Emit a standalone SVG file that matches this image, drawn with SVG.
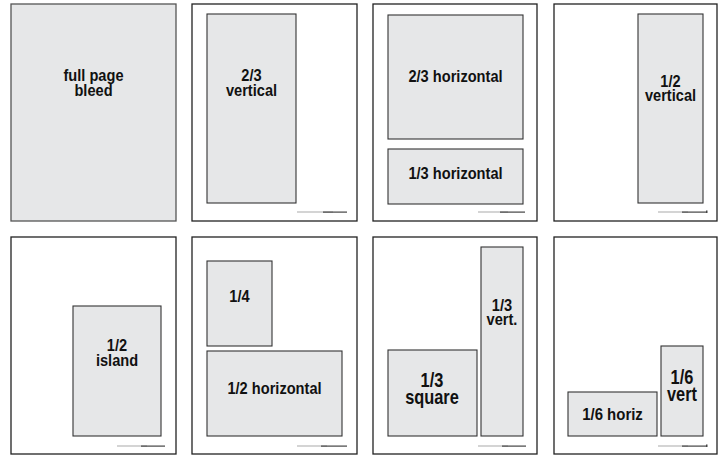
<svg xmlns="http://www.w3.org/2000/svg" width="722" height="455" viewBox="0 0 722 455">
<style>
.page{fill:#fff;stroke:#222;stroke-width:1.3}
.bleed{fill:#e6e7e8;stroke:#555;stroke-width:1.3}
.ad{fill:#e6e7e8;stroke:#333;stroke-width:1.1}
.t{font-family:"Liberation Sans",Arial,sans-serif;font-weight:bold;font-size:17px;fill:#111;text-anchor:middle}
.big{font-size:19.5px}
.f1{fill:#aaa}
.f2{fill:#444}
</style>
<rect width="722" height="455" fill="#fff"/>
<g id="p1">
<rect class="bleed" x="11" y="4" width="165" height="217"/>
<text class="t" transform="translate(93.5,81) scale(0.86,1)">full page</text>
<text class="t" transform="translate(93.5,96) scale(0.86,1)">bleed</text>
</g>
<g id="p2">
<rect class="page" x="192" y="4" width="165" height="217"/>
<rect class="ad" x="207" y="14" width="89" height="189"/>
<text class="t" transform="translate(251.5,81) scale(0.86,1)">2/3</text>
<text class="t" transform="translate(251.5,96) scale(0.86,1)">vertical</text>
<rect class="f1" x="297" y="211.5" width="36" height="1"/><rect class="f2" x="323" y="211.5" width="24" height="1.2"/>
</g>
<g id="p3">
<rect class="page" x="373" y="4" width="164" height="217"/>
<rect class="ad" x="388" y="15" width="135" height="124"/>
<text class="t" transform="translate(455.5,82) scale(0.86,1)">2/3 horizontal</text>
<rect class="ad" x="388" y="149" width="135" height="55"/>
<text class="t" transform="translate(455.5,179) scale(0.86,1)">1/3 horizontal</text>
<rect class="f1" x="478" y="211.5" width="30" height="1"/><rect class="f2" x="500" y="211.5" width="25" height="1.2"/>
</g>
<g id="p4">
<rect class="page" x="554" y="4" width="163" height="217"/>
<rect class="ad" x="638" y="14" width="65" height="189"/>
<text class="t" transform="translate(670.5,87) scale(0.86,1)">1/2</text>
<text class="t" transform="translate(670.5,101) scale(0.86,1)">vertical</text>
<rect class="f1" x="658" y="211.5" width="30" height="1"/><rect class="f2" x="682" y="211.5" width="24" height="1.2"/><rect class="f2" x="706" y="210.5" width="1.5" height="2.5"/>
</g>
<g id="p5">
<rect class="page" x="11" y="237" width="165" height="217"/>
<rect class="ad" x="73" y="306" width="88" height="130"/>
<text class="t" transform="translate(117,351) scale(0.86,1)">1/2</text>
<text class="t" transform="translate(117,366) scale(0.86,1)">island</text>
<rect class="f1" x="117" y="445.5" width="30" height="1"/><rect class="f2" x="141" y="445.5" width="24" height="1.2"/>
</g>
<g id="p6">
<rect class="page" x="192" y="237" width="165" height="217"/>
<rect class="ad" x="207" y="261" width="65" height="85"/>
<text class="t" transform="translate(239.5,302) scale(0.86,1)">1/4</text>
<rect class="ad" x="207" y="351" width="135" height="85"/>
<text class="t" transform="translate(274.5,394) scale(0.86,1)">1/2 horizontal</text>
<rect class="f1" x="297" y="445.5" width="30" height="1"/><rect class="f2" x="321" y="445.5" width="26" height="1.2"/>
</g>
<g id="p7">
<rect class="page" x="373" y="237" width="164" height="217"/>
<rect class="ad" x="388" y="350" width="89" height="86"/>
<text class="t big" transform="translate(432,387) scale(0.84,1)">1/3</text>
<text class="t big" transform="translate(432,404) scale(0.84,1)">square</text>
<rect class="ad" x="481" y="247" width="42" height="189"/>
<text class="t" transform="translate(502,311) scale(0.86,1)">1/3</text>
<text class="t" transform="translate(502,325) scale(0.86,1)">vert.</text>
<rect class="f1" x="478" y="445.5" width="30" height="1"/><rect class="f2" x="502" y="445.5" width="24" height="1.2"/>
</g>
<g id="p8">
<rect class="page" x="554" y="237" width="163" height="217"/>
<rect class="ad" x="568" y="392" width="89" height="44"/>
<text class="t" transform="translate(612.5,420) scale(0.88,1)">1/6 horiz</text>
<rect class="ad" x="661" y="346" width="42" height="90"/>
<text class="t big" transform="translate(682,384) scale(0.84,1)">1/6</text>
<text class="t big" transform="translate(682,401) scale(0.84,1)">vert</text>
<rect class="f1" x="658" y="445.5" width="30" height="1"/><rect class="f2" x="682" y="445.5" width="24" height="1.2"/><rect class="f2" x="706" y="444.5" width="1.5" height="2.5"/>
</g>
<g id="connectors"></g>
</svg>
